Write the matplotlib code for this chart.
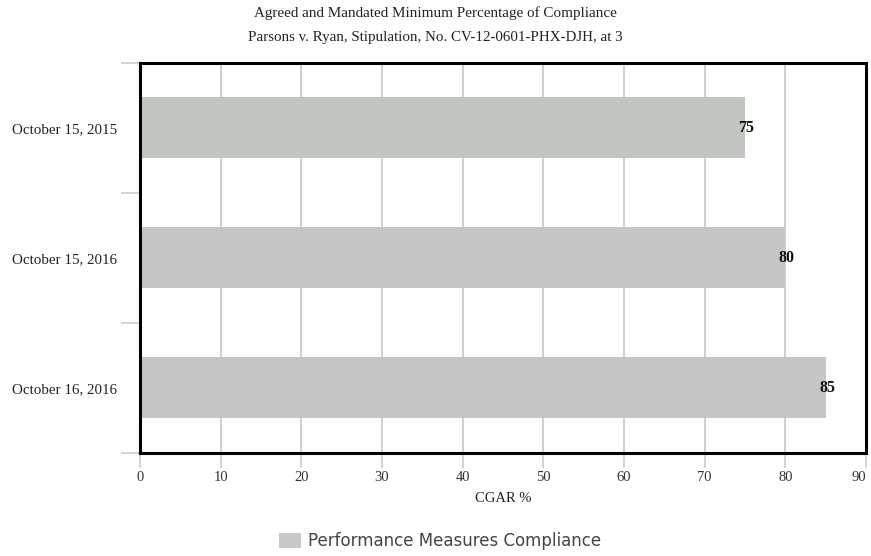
import matplotlib
matplotlib.use("Agg")
import matplotlib.pyplot as plt
from matplotlib.patches import Patch

categories = ["October 15, 2015", "October 15, 2016", "October 16, 2016"]
values = [75, 80, 85]
bar_colors = ["#c1c6c1", "#c6c6c6", "#c6c6c6"]
xticks = [0, 10, 20, 30, 40, 50, 60, 70, 80, 90]
title1 = "Agreed and Mandated Minimum Percentage of Compliance"
title2 = "Parsons v. Ryan, Stipulation, No. CV-12-0601-PHX-DJH, at 3"
xlabel = "CGAR %"
legend_label = "Performance Measures Compliance"

serif = ["Liberation Serif", "DejaVu Serif"]

fig = plt.figure(figsize=(8.71, 5.56), dpi=100)
ax = fig.add_axes([140/871, 1-452.7/556, (866-140)/871, (452.7-63)/556])

ypos = list(range(len(categories)))
ax.barh(ypos, values, height=0.47, color=bar_colors, zorder=2)
for y, v in zip(ypos, values):
    ax.text(v + 0.2, y, str(v), ha="center", va="center", fontsize=11.5,
            fontweight="bold", family=serif, color="#111111", zorder=3)

ax.set_xlim(0, 90)
ax.set_ylim(2.5, -0.5)
ax.set_xticks(xticks)
ax.set_xticklabels([str(t) for t in xticks], family=serif, fontsize=10.5, color="#333333")
ax.get_xticklabels()[-1].set_horizontalalignment("right")
ax.set_yticks([-0.5, 0.5, 1.5, 2.5])
ax.set_yticklabels([])
ax.set_yticks(ypos, minor=True)
ax.set_yticklabels(categories, minor=True, family=serif, fontsize=10.8, color="#222222")
ax.tick_params(axis="y", which="minor", length=0, pad=16.6)
ax.tick_params(axis="y", which="major", length=14, width=1.2, color="#cccccc")
ax.tick_params(axis="x", which="major", length=11, width=1.2, color="#cccccc", pad=2)

ax.grid(axis="x", color="#cccccc", linewidth=1.3, zorder=1)
for s in ax.spines.values():
    s.set_linewidth(2.2)
    s.set_color("black")
    s.set_zorder(4)

ax.set_xlabel(xlabel, family=serif, fontsize=10.5, color="#222222", labelpad=6)

fig.text(0.5, 1-13/556, title1, ha="center", va="center", family=serif, fontsize=10.9, color="#222222")
fig.text(0.5, 1-38/556, title2, ha="center", va="center", family=serif, fontsize=10.8, color="#222222")

handles = [Patch(facecolor="#c8c8c8", edgecolor="none")]
leg = fig.legend(handles, [legend_label], loc="center", bbox_to_anchor=(440/871, 1-541/556),
                 frameon=False, fontsize=12, handlelength=1.32, handleheight=1.0,
                 handletextpad=0.45, labelcolor="#444444")

fig.savefig("out.png", dpi=100)
